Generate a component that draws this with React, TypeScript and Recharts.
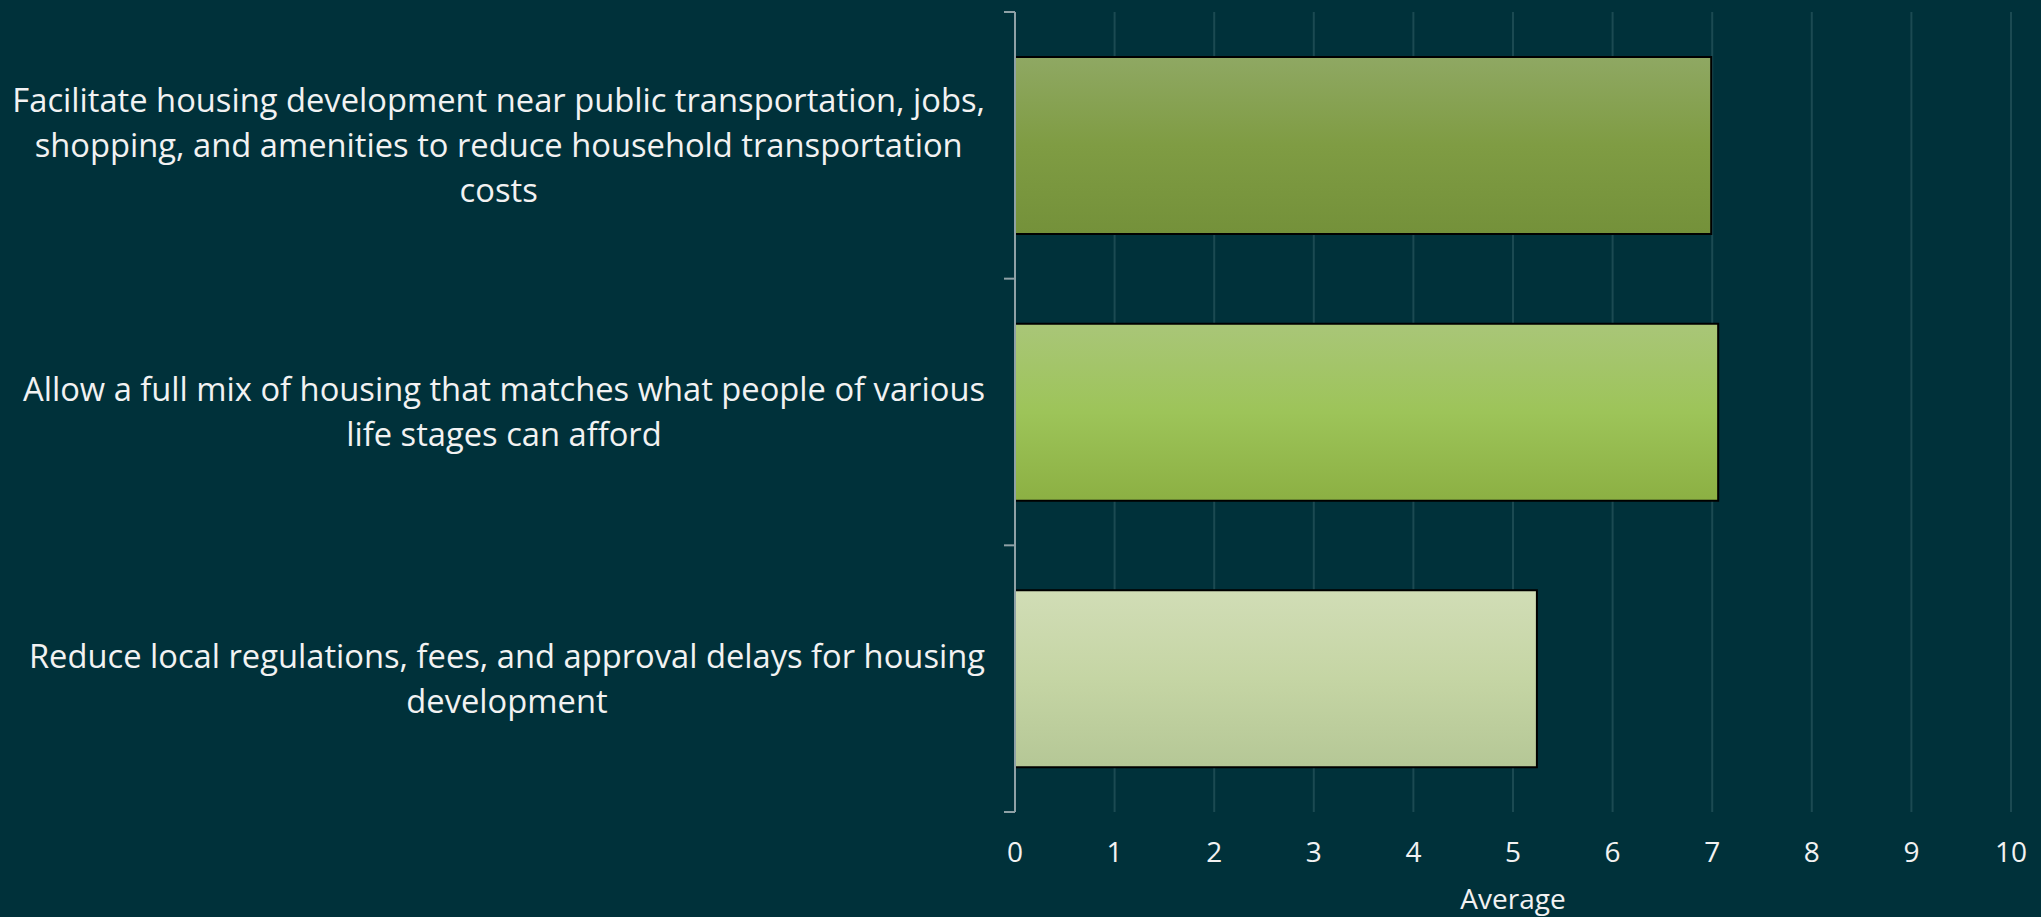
import { BarChart, Bar, XAxis, YAxis, CartesianGrid, Cell } from 'recharts'

// ── Data ───────────────────────────────────────────────────────────────────

const CATEGORIES = [
  'Facilitate housing development near public transportation, jobs, shopping, and amenities to reduce household transportation costs',
  'Allow a full mix of housing that matches what people of various life stages can afford',
  'Reduce local regulations, fees, and approval delays for housing development',
]

// how the labels break into lines
const LABEL_LINES = [
  ['Facilitate housing development near public transportation, jobs,', 'shopping, and amenities to reduce household transportation', 'costs'],
  ['Allow a full mix of housing that matches what people of various', 'life stages can afford'],
  ['Reduce local regulations, fees, and approval delays for housing', 'development'],
]

const AVERAGES = [6.99, 7.06, 5.24]
const X_TICKS = [0, 1, 2, 3, 4, 5, 6, 7, 8, 9, 10]

const data = CATEGORIES.map((name, i) => ({ name, average: AVERAGES[i] }))

// ── Styles ─────────────────────────────────────────────────────────────────

const W = 2041
const H = 917
const MARGIN = { top: 12, right: 30, bottom: 0, left: 0 }
const X_AXIS_H = 105
const Y_AXIS_W = 1015
const BG = '#00313a'
const FONT = '"Open Sans", sans-serif'
const FS = 32.7
const TICK_FS = 28
const LINE_H = 45
const LABEL_RIGHT = 985
const TEXT = '#f2f2f2'
const GRADS = [
  ['#8fa863', '#7f9c43', '#74913a'],
  ['#a9c678', '#9dc459', '#8cb043'],
  ['#d1ddb6', '#c5d5a4', '#b5c796'],
]

let ctx: CanvasRenderingContext2D | null = null
function textWidth(s: string) {
  if (!ctx) ctx = document.createElement('canvas').getContext('2d')
  if (!ctx) return s.length * FS * 0.5
  ctx.font = `${FS}px "Open Sans"`
  return ctx.measureText(s).width
}

function CategoryTick(props: any) {
  const { x, y, payload, index } = props
  const lines = LABEL_LINES[index] ?? [String(payload.value)]
  const block = Math.max(...lines.map(textWidth))
  const cx = LABEL_RIGHT - block / 2
  const band = (H - MARGIN.top - X_AXIS_H) / CATEGORIES.length
  const axisX = x + 8
  return (
    <g>
      <line x1={axisX - 11} x2={axisX} y1={y - band / 2} y2={y - band / 2} stroke="#8fa1a6" strokeWidth={2} />
      {index === CATEGORIES.length - 1 && (
        <line x1={axisX - 11} x2={axisX} y1={y + band / 2} y2={y + band / 2} stroke="#8fa1a6" strokeWidth={2} />
      )}
      {lines.map((l, i) => (
        <text
          key={i}
          x={cx}
          y={y + (i - (lines.length - 1) / 2) * LINE_H}
          dy="0.36em"
          textAnchor="middle"
          fill={TEXT}
          fontSize={FS}
          fontFamily={FONT}
        >
          {l}
        </text>
      ))}
    </g>
  )
}

export default function App() {
  return (
    <div style={{ position: 'fixed', left: 0, top: 0, width: W, height: H, background: BG }}>
      <BarChart width={W} height={H} data={data} layout="vertical" margin={MARGIN}>
        <defs>
          {GRADS.map((g, i) => (
            <linearGradient key={i} id={`grad${i}`} x1="0" y1="0" x2="0" y2="1">
              <stop offset="0%" stopColor={g[0]} />
              <stop offset="50%" stopColor={g[1]} />
              <stop offset="100%" stopColor={g[2]} />
            </linearGradient>
          ))}
        </defs>
        <CartesianGrid horizontal={false} stroke="#1b4a52" strokeWidth={2} />
        <XAxis
          type="number"
          domain={[0, 10]}
          ticks={X_TICKS}
          height={X_AXIS_H}
          axisLine={false}
          tickLine={false}
          tickSize={0}
          tickMargin={30}
          tick={{ fill: TEXT, fontSize: TICK_FS, fontFamily: FONT }}
          label={{ value: 'Average', position: 'insideBottom', offset: 8, fill: TEXT, fontSize: TICK_FS, fontFamily: FONT }}
        />
        <YAxis
          type="category"
          dataKey="name"
          width={Y_AXIS_W}
          axisLine={{ stroke: '#8fa1a6', strokeWidth: 2 }}
          tickLine={false}
          tickSize={0}
          tickMargin={8}
          tick={<CategoryTick />}
          interval={0}
        />
        <Bar dataKey="average" barSize={177} stroke="#000000" strokeWidth={2} isAnimationActive={false}>
          {data.map((_, i) => (
            <Cell key={i} fill={`url(#grad${i})`} />
          ))}
        </Bar>
      </BarChart>
    </div>
  )
}
